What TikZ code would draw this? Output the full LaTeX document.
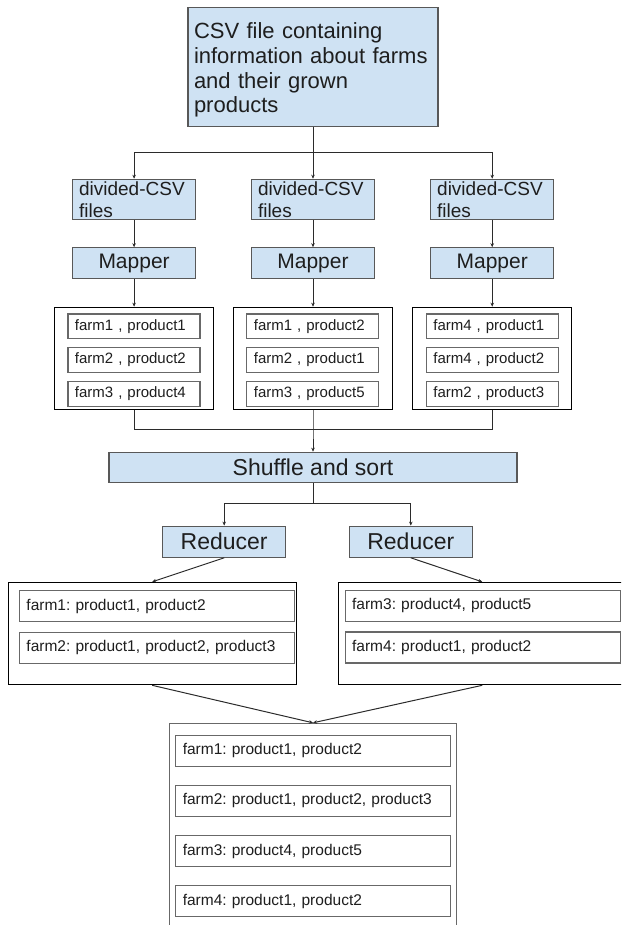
\documentclass[tikz,border=0pt]{standalone}
\usepackage{fontspec}
\setmainfont{Liberation Sans}
\usetikzlibrary{positioning,arrows.meta}
\definecolor{boxblue}{HTML}{CFE2F3}
\definecolor{boxline}{HTML}{585858}
\definecolor{rowline}{HTML}{686868}
\definecolor{wire}{HTML}{2B2B2B}
\definecolor{ink}{HTML}{1E1E1E}
\frenchspacing

\begin{document}
\begin{tikzpicture}[x=1pt, y=1pt, text=ink,
  stage/.style={draw=boxline, fill=boxblue, line width=1.2pt, inner sep=0pt},
  srcbox/.style={stage, text width=238pt, inner xsep=6pt, align=left,
    minimum height=119.3pt, font=\fontsize{22}{24.8}\selectfont},
  partbox/.style={stage, text width=110pt, inner xsep=6.5pt, inner ysep=2pt, align=left,
    minimum height=39.4pt, font=\fontsize{19}{22}\selectfont},
  mapbox/.style={stage, minimum width=123pt, minimum height=31pt, font=\fontsize{21}{24}\selectfont},
  sortbox/.style={stage, minimum width=408pt, minimum height=30.4pt, font=\fontsize{23}{26}\selectfont},
  redbox/.style={stage, minimum width=123pt, minimum height=31pt, font=\fontsize{23}{26}\selectfont},
  groupbox/.style={draw=black, line width=1pt, fill=white, inner sep=0pt,
    minimum width=159.5pt, minimum height=102pt},
  pairrow/.style={draw=rowline, line width=1.2pt, inner ysep=0pt, inner xsep=7pt,
    text width=118pt, align=left, minimum height=24.6pt, font=\fontsize{15}{18}\selectfont},
  listbox/.style={draw=black, line width=1pt, fill=white, inner sep=0pt,
    minimum width=287.7pt, minimum height=102.5pt},
  finalbox/.style={draw=rowline, line width=1pt, fill=white, inner sep=0pt,
    minimum width=286.7pt, minimum height=209pt},
  farmrow/.style={draw=rowline, line width=1.2pt, inner ysep=0pt, inner xsep=7pt,
    text width=261pt, align=left, minimum height=31pt, font=\fontsize{15.5}{18}\selectfont},
  link/.style={draw=wire, line width=1pt},
  arr/.style={link, -{Stealth[length=4pt,width=3.5pt]}}]
  \path[use as bounding box] (0,0) rectangle (621,-925);
  \clip (0,0) rectangle (621,-925);

  % input file and its parts
  \node[srcbox] (csv) at (313,-66.9) {\rule{0pt}{22pt}CSV file containing\\information about farms\\and their grown\\products};
  \coordinate[below=25.6pt of csv] (fork);
  \node[partbox, below=51.6pt of csv] (div2) {divided-CSV\\files};
  \node[partbox, left=54.7pt of div2] (div1) {divided-CSV\\files};
  \node[partbox, right=55pt of div2] (div3) {divided-CSV\\files};

  % mappers
  \node[mapbox, below=27.3pt of div1] (map1) {Mapper};
  \node[mapbox, below=27.3pt of div2] (map2) {Mapper};
  \node[mapbox, below=27.3pt of div3] (map3) {Mapper};

  % mapper output
  \node[groupbox, below=27.3pt of map1] (grp1) {};
  \node[groupbox, below=27.3pt of map2] (grp2) {};
  \node[groupbox, below=27.3pt of map3] (grp3) {};
  \node[pairrow, below right=6.7pt and 13.5pt of grp1.north west] (p11) {farm1 , product1};
  \node[pairrow, below=8pt of p11] (p12) {farm2 , product2};
  \node[pairrow, below=8pt of p12] (p13) {farm3 , product4};
  \node[pairrow, below right=6.7pt and 13.5pt of grp2.north west] (p21) {farm1 , product2};
  \node[pairrow, below=8pt of p21] (p22) {farm2 , product1};
  \node[pairrow, below=8pt of p22] (p23) {farm3 , product5};
  \node[pairrow, below right=6.7pt and 13.8pt of grp3.north west] (p31) {farm4 , product1};
  \node[pairrow, below=8pt of p31] (p32) {farm4 , product2};
  \node[pairrow, below=8pt of p32] (p33) {farm2 , product3};

  % shuffle and reducers
  \coordinate[below=19.7pt of grp2] (join);
  \node[sortbox, below=42pt of grp2] (shuffle) {Shuffle and sort};
  \coordinate[below=20.6pt of shuffle] (fork2);
  \node[redbox, below=42.3pt of shuffle, xshift=-88.8pt] (red1) {Reducer};
  \node[redbox, below=42.3pt of shuffle, xshift=97.8pt] (red2) {Reducer};

  % reducer output
  \node[listbox, below=24pt of red1, xshift=-72pt] (low1) {};
  \node[listbox, below=24pt of red2, xshift=71.4pt] (low2) {};
  \node[farmrow, below right=8.3pt and 11pt of low1.north west] (l11) {farm1: product1, product2};
  \node[farmrow, below=9.3pt of l11] (l12) {farm2: product1, product2, product3};
  \node[farmrow, below right=8pt and 6.7pt of low2.north west] (l21) {farm3: product4, product5};
  \node[farmrow, below=9.3pt of l21] (l22) {farm4: product1, product2};

  % final result
  \coordinate (mid) at (low1.south -| shuffle.south);
  \node[finalbox, below=37.5pt of mid] (final) {};
  \node[farmrow, below right=11.7pt and 6pt of final.north west] (f1) {farm1: product1, product2};
  \node[farmrow, below=18pt of f1] (f2) {farm2: product1, product2, product3};
  \node[farmrow, below=18pt of f2] (f3) {farm3: product4, product5};
  \node[farmrow, below=18pt of f3] (f4) {farm4: product1, product2};

  \draw[arr] (csv) -- (fork) -| (div1);
  \draw[arr] (fork) -- (div2);
  \draw[arr] (fork) -| (div3);
  \draw[arr] (div1) -- (map1);
  \draw[arr] (div2) -- (map2);
  \draw[arr] (div3) -- (map3);
  \draw[arr] (map1) -- (grp1);
  \draw[arr] (map2) -- (grp2);
  \draw[arr] (map3) -- (grp3);
  \draw[link] (grp1) |- (join);
  \draw[link] (grp3) |- (join);
  \draw[arr] (grp2) -- (join) -- (shuffle);
  \draw[link] (shuffle) -- (fork2);
  \draw[arr] (fork2) -| (red1);
  \draw[arr] (fork2) -| (red2);
  \draw[arr] (red1.south) -- (low1.north);
  \draw[arr] (red2.south) -- (low2.north);
  \draw[arr] (low1.south) -- (final.north);
  \draw[arr] (low2.south) -- (final.north);
\end{tikzpicture}
\end{document}
